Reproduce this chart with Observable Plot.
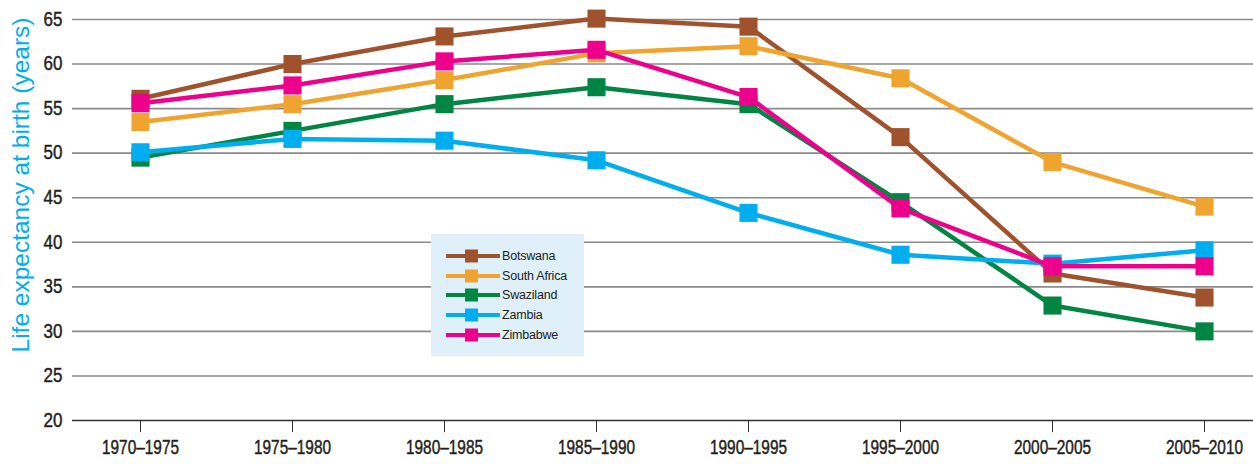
<!DOCTYPE html>
<html><head><meta charset="utf-8">
<script src="https://cdn.jsdelivr.net/npm/d3@7"></script>
<script src="https://cdn.jsdelivr.net/npm/@observablehq/plot@0.6"></script>
<style>
body{margin:0;background:#fff;}
#wrap{position:relative;width:1253px;height:464px;}
#legend{position:absolute;left:431px;top:234px;width:153px;height:122px;background:#dff0fb;font-family:"Liberation Sans",Arial,sans-serif;font-size:12.5px;color:#222;letter-spacing:-0.2px;}
.row{position:absolute;left:15px;height:16px;display:flex;align-items:center;}
.row svg{margin-right:2px;}
</style></head>
<body><div id="wrap"><div id="legend"></div></div>
<script>
const periods = ["1970–1975","1975–1980","1980–1985","1985–1990","1990–1995","1995–2000","2000–2005","2005–2010"];
const countries = ["Botswana","South Africa","Swaziland","Zambia","Zimbabwe"];
const colors = ["#a0522d","#f0a430","#008542","#00aeef","#ec008c"];
const botswana    = [56.1, 60.0, 63.1, 65.1, 64.2, 51.8, 36.5, 33.8];
const southAfrica = [53.5, 55.5, 58.2, 61.2, 62.0, 58.4, 49.0, 44.0];
const swaziland   = [49.5, 52.5, 55.5, 57.4, 55.5, 44.5, 32.9, 30.0];
const zambia      = [50.1, 51.6, 51.4, 49.2, 43.3, 38.6, 37.6, 39.1];
const zimbabwe    = [55.6, 57.6, 60.3, 61.6, 56.3, 43.8, 37.3, 37.3];
const yTicks = [20,25,30,35,40,45,50,55,60,65];
const yLabel = "Life expectancy at birth (years)";

const seriesVals = [botswana, southAfrica, swaziland, zambia, zimbabwe];
const data = [];
countries.forEach((c, k) => seriesVals[k].forEach((v, i) => data.push({country: c, period: periods[i], value: v})));

const font = '"Liberation Sans",Arial,sans-serif';
const marks = [
  Plot.ruleY(yTicks.filter(t => t > 20), {stroke: "#8a8a8a", strokeWidth: 1.6}),
  Plot.ruleY([20], {stroke: "#333", strokeWidth: 1.3}),
  Plot.axisY({ticks: yTicks, tickSize: 0, tickPadding: 10, label: null, fontSize: 19.5, fill: "#231f20", className: "yax"}),
  Plot.axisX({tickSize: 12, tickPadding: 8, label: null, fontSize: 19.5, fill: "#231f20", stroke: "#333", className: "xax"}),
  Plot.text([yLabel], {frameAnchor: "left", textAnchor: "middle", dx: -51, dy: -35, rotate: -90, fill: "#00aeef", fontSize: 24.5, fontFamily: font})
];
countries.forEach((c, k) => {
  const d = data.filter(r => r.country === c);
  marks.push(Plot.line(d, {x: "period", y: "value", stroke: colors[k], strokeWidth: 4.5}));
  marks.push(Plot.dot(d, {x: "period", y: "value", symbol: "square", r: 10.2, fill: colors[k]}));
});

const chart = Plot.plot({
  width: 1253, height: 464,
  marginLeft: 72, marginRight: 0, marginTop: 19, marginBottom: 44,
  style: {fontFamily: font, background: "transparent"},
  x: {type: "point", domain: periods, range: [139, 1204], padding: 0},
  y: {domain: [20, 65]},
  marks
});
const wrap = document.getElementById("wrap");
wrap.insertBefore(chart, wrap.firstChild);
// condensed, slightly heavier look for tick labels
function condense(sel, size, f) {
  chart.querySelectorAll(sel).forEach(t => {
    t.style.fontSize = size + "px";
    const w = t.getComputedTextLength();
    t.setAttribute("textLength", (w * f).toFixed(1));
    t.setAttribute("lengthAdjust", "spacingAndGlyphs");
    t.style.stroke = "#231f20";
    t.style.strokeWidth = "0.45px";
  });
}
condense("g.xax text", 19.5, 0.79);
condense("g.yax text", 19.5, 0.87);

const leg = document.getElementById("legend");
countries.forEach((c, k) => {
  const row = document.createElement("div");
  row.className = "row";
  row.style.top = (14 + k * 19.7) + "px";
  row.innerHTML = `<svg width="54" height="14"><line x1="0" x2="54" y1="7" y2="7" stroke="${colors[k]}" stroke-width="4"/><rect x="19" y="0.5" width="13" height="13" fill="${colors[k]}"/></svg><span>${c}</span>`;
  leg.appendChild(row);
});
</script></body></html>
